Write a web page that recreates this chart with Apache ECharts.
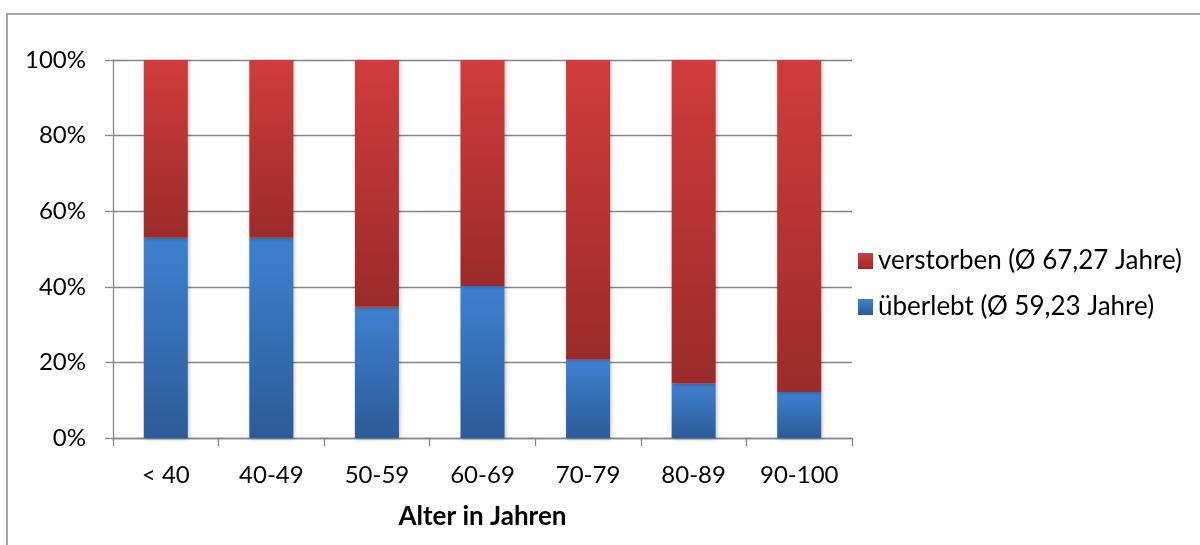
<!DOCTYPE html>
<html>
<head>
<meta charset="utf-8">
<script src="https://cdn.jsdelivr.net/npm/echarts@6/dist/echarts.min.js"></script>
<style>
  html, body { margin: 0; padding: 0; background: #fff; }
  #chart { width: 1200px; height: 545px; }
</style>
</head>
<body>
<div id="chart"></div>
<script>
// Altersgruppen und Anteile (in Prozent)
const categories = ['< 40', '40-49', '50-59', '60-69', '70-79', '80-89', '90-100'];
const survived = [53.0, 53.0, 34.7, 40.2, 20.9, 14.4, 12.2];
const died = survived.map(v => +(100 - v).toFixed(1));
const yTicks = [0, 20, 40, 60, 80, 100];

const nameDied = 'verstorben (Ø 67,27 Jahre)';
const nameSurvived = 'überlebt (Ø 59,23 Jahre)';

const FONT = 'Lato, "Open Sans", sans-serif';
const AXIS_GRAY = '#868686';

const redGrad = new echarts.graphic.LinearGradient(0, 0, 0, 1, [
  { offset: 0, color: '#d13c3b' },
  { offset: 1, color: '#9a2b2a' }
]);
const blueGrad = new echarts.graphic.LinearGradient(0, 0, 0, 1, [
  { offset: 0, color: '#3e81d1' },
  { offset: 1, color: '#2c5b97' }
]);

const chart = echarts.init(document.getElementById('chart'), null, { renderer: 'canvas' });

chart.setOption({
  animation: false,
  backgroundColor: '#ffffff',
  graphic: [{
    type: 'rect',
    shape: { x: 7, y: 14, width: 1400, height: 800 },
    style: { fill: 'none', stroke: '#8c8c8c', lineWidth: 1.5 },
    silent: true
  }],
  grid: { left: 113, right: 348, top: 60, bottom: 107 },
  legend: {
    orient: 'vertical',
    left: 853,
    top: 243,
    itemWidth: 15,
    itemHeight: 16,
    itemGap: 20,
    icon: 'rect',
    textStyle: { fontFamily: FONT, fontSize: 26, lineHeight: 26, color: '#000' },
    data: [nameDied, nameSurvived]
  },
  xAxis: {
    type: 'category',
    data: categories,
    name: 'Alter in Jahren',
    nameLocation: 'middle',
    nameGap: 66,
    nameTextStyle: { fontFamily: FONT, fontSize: 26, fontWeight: 'bold', color: '#000' },
    axisLine: { lineStyle: { color: AXIS_GRAY, width: 1.3 } },
    axisTick: { show: true, length: 8, lineStyle: { color: AXIS_GRAY, width: 1.3 } },
    axisLabel: { fontFamily: FONT, fontSize: 24, color: '#000', margin: 25 }
  },
  yAxis: {
    type: 'value',
    min: 0,
    max: 100,
    interval: 20,
    axisLine: { show: true, lineStyle: { color: AXIS_GRAY, width: 1.3 } },
    axisTick: { show: true, length: 8, lineStyle: { color: AXIS_GRAY, width: 1.3 } },
    splitLine: { lineStyle: { color: AXIS_GRAY, width: 1.3 } },
    axisLabel: {
      fontFamily: FONT, fontSize: 24, color: '#000', margin: 27,
      formatter: v => yTicks.includes(v) ? v + '%' : ''
    }
  },
  series: [
    {
      name: nameSurvived,
      type: 'bar',
      stack: 'total',
      barWidth: 44,
      data: survived,
      itemStyle: {
        color: blueGrad,
        shadowBlur: 4,
        shadowColor: 'rgba(0,0,0,0.25)',
        shadowOffsetX: 1,
        shadowOffsetY: 1
      }
    },
    {
      name: nameDied,
      type: 'bar',
      stack: 'total',
      barWidth: 44,
      data: died,
      itemStyle: {
        color: redGrad,
        shadowBlur: 4,
        shadowColor: 'rgba(0,0,0,0.25)',
        shadowOffsetX: 1,
        shadowOffsetY: 1
      }
    }
  ]
});
</script>
</body>
</html>
